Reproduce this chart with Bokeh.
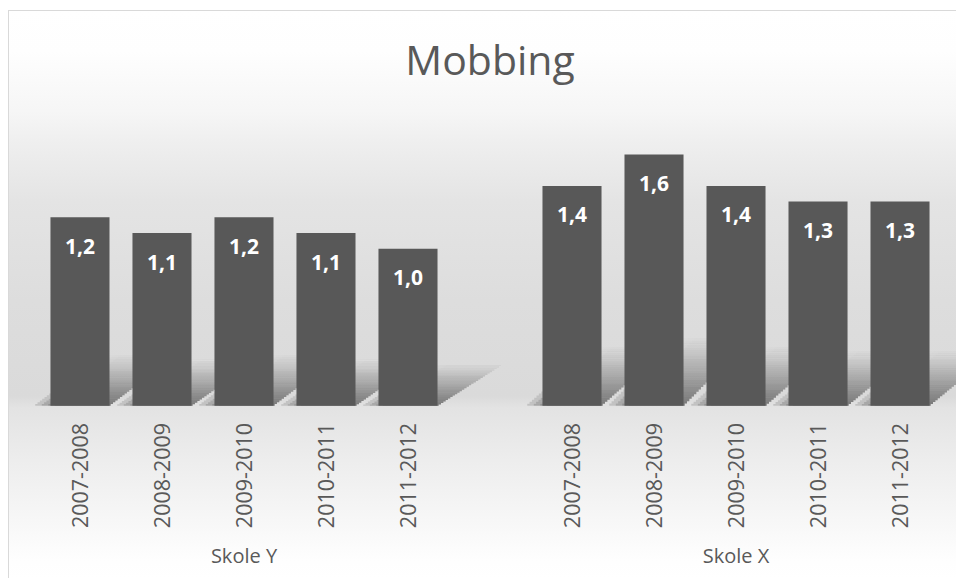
import math
from bokeh.plotting import figure
from bokeh.models import FactorRange, Range1d, ColumnDataSource
from bokeh.transform import dodge
from bokeh.core.properties import value
from bokeh.embed import file_html
from bokeh.resources import INLINE

# ---- data ----
schools = ["Skole Y", "Skole X"]
years = ["2007-2008", "2008-2009", "2009-2010", "2010-2011", "2011-2012"]
skole_y = [1.2, 1.1, 1.2, 1.1, 1.0]
skole_x = [1.4, 1.6, 1.4, 1.3, 1.3]
title_text = "Mobbing"

series = {"Skole Y": skole_y, "Skole X": skole_x}
factors = [(s, y) for s in schools for y in years]
vals = [v for s in schools for v in series[s]]
labels = [f"{v:.1f}".replace(".", ",") for v in vals]

source = ColumnDataSource(dict(x=factors, v=vals, lab=labels))

FONT = "Open Sans"
GREY = "#595959"

gradient = ("linear-gradient(to bottom, #ffffff 0px, #fefefe 40px, #f6f6f6 100px, "
            "#efefef 130px, #e4e4e4 190px, #dddddd 290px, #dadada 385px, "
            "#e3e3e3 397px, #eeeeee 455px, #f8f8f8 515px, #fefefe 550px, #ffffff 569px)")

p = figure(
    x_range=FactorRange(*factors, factor_padding=0.0, group_padding=1.0,
                        range_padding=0.201, range_padding_units="absolute"),
    y_range=Range1d(-1.105, 1.937),
    width=948, height=568,
    output_backend="svg", toolbar_location=None, tools="",
    min_border_left=13, min_border_right=0, min_border_bottom=0, min_border_top=90,
    styles={"background": gradient,
            "margin-left": "8px", "margin-top": "10px",
            "border-left": "1px solid #d9d9d9",
            "border-top": "1px solid #d9d9d9"},
)
p.background_fill_alpha = 0
p.border_fill_alpha = 0
p.outline_line_color = None
p.grid.visible = False
p.yaxis.visible = False

# title
p.title.text = title_text
p.title.align = "center"
p.title.text_font = FONT
p.title.text_font_size = "41px"
p.title.text_font_style = "normal"
p.title.text_color = GREY
p.title.standoff = 30

# soft floor shadows behind the bars (layered, fading upward, sheared right)
N = 30
H = 0.28
S = 0.85
widths = [0.68, 0.76, 0.84, 0.92]
for i in range(N):
    f0, f1 = i / N, (i + 1) / N
    src = ColumnDataSource(dict(
        x=factors,
        b=[v * H * f0 for v in vals],
        t=[v * H * f1 for v in vals],
    ))
    a = 0.55 * (1 - f0) ** 1.3
    for w in widths:
        p.vbar(x=dodge("x", S * (i + 0.5) / N - (w - 0.72) / 2, range=p.x_range),
               bottom="b", top="t", width=w, source=src, fill_color="black",
               fill_alpha=a / len(widths), line_color=None)

# bars
p.vbar(x="x", top="v", width=0.72, source=source,
       fill_color="#585858", line_color=None)

# value labels
p.text(x="x", y="v", text="lab", source=source, y_offset=29,
       text_align="center", text_baseline="middle",
       text_font=value(FONT), text_font_style="bold",
       text_font_size="21px", text_color="white")

# axis inside the frame at y = 0
ax = p.xaxis[0]
ax.fixed_location = 0
ax.axis_line_color = None
ax.major_tick_line_color = None
ax.minor_tick_line_color = None
ax.separator_line_color = None
ax.major_label_orientation = math.pi / 2
ax.major_label_standoff = 11
ax.major_label_text_font = FONT
ax.major_label_text_font_size = "21.5px"
ax.major_label_text_color = GREY
ax.group_text_font = FONT
ax.group_text_font_size = "20px"
ax.group_text_font_style = "normal"
ax.group_text_color = GREY
ax.group_label_orientation = "horizontal"

open("out.html", "w").write(file_html(p, INLINE))
